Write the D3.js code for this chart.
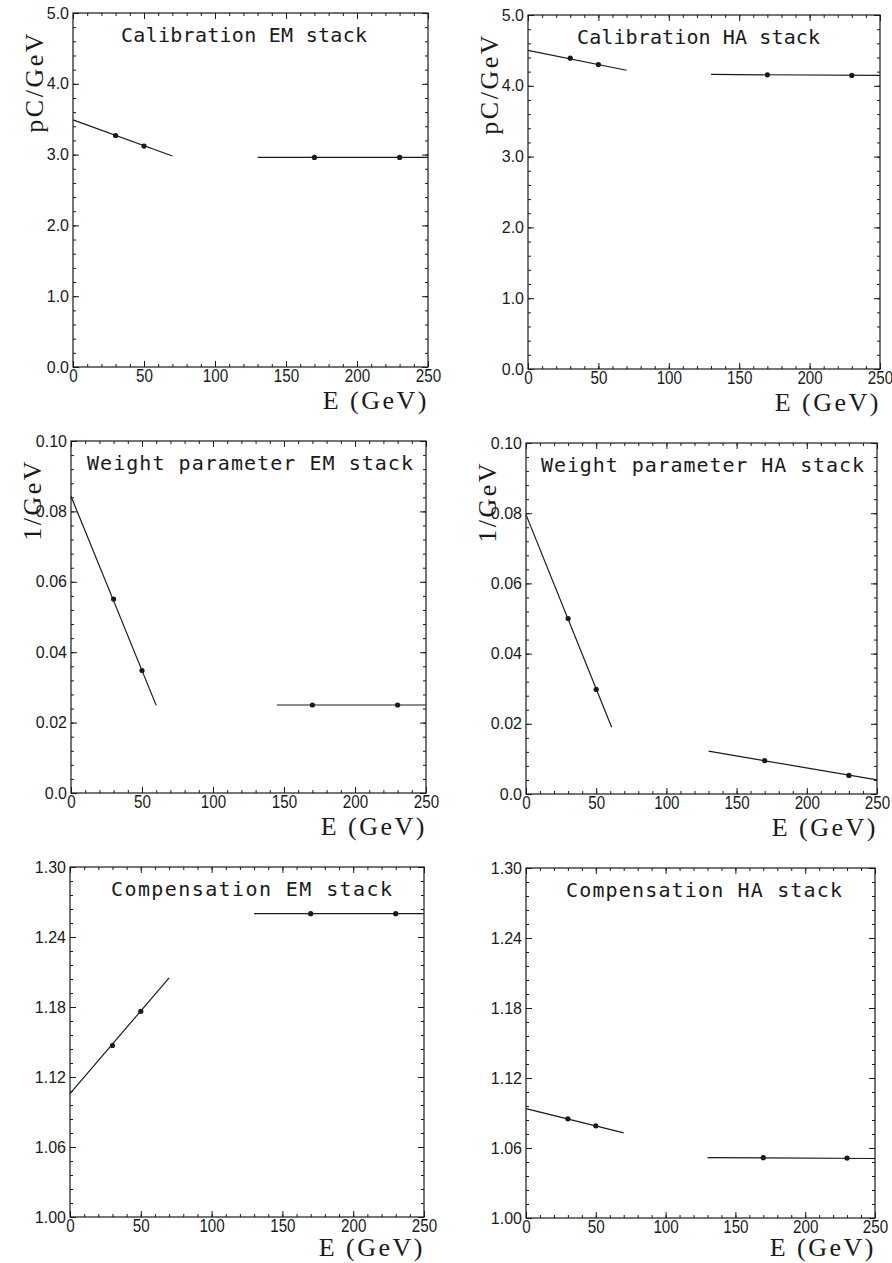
<!DOCTYPE html>
<html>
<head>
<meta charset="utf-8">
<script src="https://cdn.jsdelivr.net/npm/d3@7"></script>
<style>
  body { margin: 0; background: #fff; }
  svg { display: block; }
</style>
</head>
<body>
<div id="chart"></div>
<script>
const W = 892, H = 1263;

// beam energies of the measured points (GeV)
const energies = [30, 50, 170, 230];

// calibration constants (pC/GeV)
const calEM = [3.27, 3.12, 2.96, 2.96];
const calHA = [4.39, 4.30, 4.155, 4.147];
const calEMFitLow = [[0, 3.49], [70, 2.98]];
const calEMFitHigh = [[130, 2.96], [250, 2.96]];
const calHAFitLow = [[0, 4.50], [70, 4.22]];
const calHAFitHigh = [[130, 4.16], [250, 4.146]];

// weight parameter (1/GeV)
const wEM = [0.0551, 0.0348, 0.025, 0.025];
const wHA = [0.050, 0.0298, 0.0095, 0.0053];
const wEMFitLow = [[0, 0.0843], [60, 0.0249]];
const wEMFitHigh = [[145, 0.025], [250, 0.025]];
const wHAFitLow = [[0, 0.0796], [61, 0.019]];
const wHAFitHigh = [[130, 0.0122], [250, 0.004]];

// compensation
const compEM = [1.147, 1.1763, 1.26, 1.26];
const compHA = [1.085, 1.079, 1.0517, 1.0514];
const compEMFitLow = [[0, 1.1057], [70, 1.205]];
const compEMFitHigh = [[130, 1.26], [250, 1.26]];
const compHAFitLow = [[0, 1.0937], [70, 1.073]];
const compHAFitHigh = [[130, 1.0517], [250, 1.051]];

// tick values and labels
const xTicks = [0, 50, 100, 150, 200, 250];
const calTicks = [0, 1, 2, 3, 4, 5];
const calLabels = ["0.0", "1.0", "2.0", "3.0", "4.0", "5.0"];
const wTicks = [0, 0.02, 0.04, 0.06, 0.08, 0.10];
const wLabels = ["0.0", "0.02", "0.04", "0.06", "0.08", "0.10"];
const compTicks = [1.00, 1.06, 1.12, 1.18, 1.24, 1.30];
const compLabels = ["1.00", "1.06", "1.12", "1.18", "1.24", "1.30"];

// panel layout: frame box [left, top, right, bottom], title start x and width
const panels = [
  { box: [73, 13, 428, 367], tx: 121, tw: 246, title: "Calibration EM stack", ylabel: "pC/GeV",
    ticks: calTicks, labels: calLabels, minor: 0.2, values: calEM, fits: [calEMFitLow, calEMFitHigh] },
  { box: [528, 15, 880, 369], tx: 577, tw: 243, title: "Calibration HA stack", ylabel: "pC/GeV",
    ticks: calTicks, labels: calLabels, minor: 0.2, values: calHA, fits: [calHAFitLow, calHAFitHigh] },
  { box: [71, 441, 426, 793], tx: 87, tw: 326, title: "Weight parameter EM stack", ylabel: "1/GeV",
    ticks: wTicks, labels: wLabels, minor: 0.004, values: wEM, fits: [wEMFitLow, wEMFitHigh] },
  { box: [526, 443, 877, 794], tx: 541, tw: 323, title: "Weight parameter HA stack", ylabel: "1/GeV",
    ticks: wTicks, labels: wLabels, minor: 0.004, values: wHA, fits: [wHAFitLow, wHAFitHigh] },
  { box: [70, 867, 424, 1217], tx: 111, tw: 281, title: "Compensation EM stack", ylabel: null,
    ticks: compTicks, labels: compLabels, minor: 0.012, values: compEM, fits: [compEMFitLow, compEMFitHigh] },
  { box: [526, 868, 875, 1218], tx: 566, tw: 276, title: "Compensation HA stack", ylabel: null,
    ticks: compTicks, labels: compLabels, minor: 0.012, values: compHA, fits: [compHAFitLow, compHAFitHigh] },
];

const ink = "#1a1a1a";

const svg = d3.select("#chart")
  .append("svg")
  .attr("width", W)
  .attr("height", H);

function styleAxis(g) {
  g.select(".domain").remove();
  g.selectAll(".tick line").attr("stroke", ink).attr("stroke-width", 1);
  g.attr("font-family", null).attr("font-size", null);
}

function drawPanel(p) {
  const [l, t, r, b] = p.box;
  const g = svg.append("g");

  const x = d3.scaleLinear().domain([0, 250]).range([l, r]);
  const yDom = [p.ticks[0], p.ticks[p.ticks.length - 1]];
  const y = d3.scaleLinear().domain(yDom).range([b, t]);

  const xMinor = d3.range(0, 250.001, 10);
  const nMinor = Math.round((yDom[1] - yDom[0]) / p.minor);
  const yMinor = d3.range(nMinor + 1).map((i) => yDom[0] + i * p.minor);

  // minor ticks on all four sides (inward)
  g.append("g").attr("transform", `translate(0,${b})`)
    .call(d3.axisBottom(x).tickValues(xMinor).tickSize(-3).tickFormat(""))
    .call(styleAxis);
  g.append("g").attr("transform", `translate(0,${t})`)
    .call(d3.axisTop(x).tickValues(xMinor).tickSize(-3).tickFormat(""))
    .call(styleAxis);
  g.append("g").attr("transform", `translate(${l},0)`)
    .call(d3.axisLeft(y).tickValues(yMinor).tickSize(-3).tickFormat(""))
    .call(styleAxis);
  g.append("g").attr("transform", `translate(${r},0)`)
    .call(d3.axisRight(y).tickValues(yMinor).tickSize(-3).tickFormat(""))
    .call(styleAxis);

  // major ticks + labels
  const xAxis = g.append("g").attr("transform", `translate(0,${b})`)
    .call(d3.axisBottom(x).tickValues(xTicks).tickSizeInner(-6).tickSizeOuter(0).tickPadding(2))
    .call(styleAxis);
  xAxis.selectAll("text")
    .attr("fill", ink)
    .style("font-family", "'Liberation Sans', Arial, sans-serif")
    .style("font-size", "19px")
    .attr("transform", "scale(0.8,1)");

  g.append("g").attr("transform", `translate(0,${t})`)
    .call(d3.axisTop(x).tickValues(xTicks).tickSize(-6).tickFormat(""))
    .call(styleAxis);

  const yAxis = g.append("g").attr("transform", `translate(${l},0)`)
    .call(d3.axisLeft(y).tickValues(p.ticks).tickSizeInner(-6).tickSizeOuter(0)
      .tickPadding(4).tickFormat((d, i) => p.labels[i]))
    .call(styleAxis);
  yAxis.selectAll("text")
    .attr("fill", ink)
    .style("font-family", "'Liberation Sans', Arial, sans-serif")
    .style("font-size", "16px");

  g.append("g").attr("transform", `translate(${r},0)`)
    .call(d3.axisRight(y).tickValues(p.ticks).tickSize(-6).tickFormat(""))
    .call(styleAxis);

  // frame
  g.append("rect")
    .attr("x", l).attr("y", t)
    .attr("width", r - l).attr("height", b - t)
    .attr("fill", "none")
    .attr("stroke", ink)
    .attr("stroke-width", 1.2);

  // fit lines
  const line = d3.line().x((d) => x(d[0])).y((d) => y(d[1]));
  p.fits.forEach((seg) => {
    g.append("path")
      .datum(seg)
      .attr("fill", "none")
      .attr("stroke", ink)
      .attr("stroke-width", 1.2)
      .attr("d", line);
  });

  // data points
  g.selectAll("circle.pt")
    .data(p.values)
    .enter()
    .append("circle")
    .attr("class", "pt")
    .attr("cx", (d, i) => x(energies[i]))
    .attr("cy", (d) => y(d))
    .attr("r", 2.6)
    .attr("fill", ink);

  // title
  g.append("text")
    .attr("x", p.tx)
    .attr("y", t + 29)
    .attr("fill", ink)
    .attr("textLength", p.tw)
    .attr("lengthAdjust", "spacing")
    .style("font-family", "'DejaVu Sans Mono', monospace")
    .style("font-size", "20px")
    .text(p.title);

  // x axis label
  g.append("text")
    .attr("x", r + 1)
    .attr("y", Math.min(b + 42, H - 7))
    .attr("text-anchor", "end")
    .attr("fill", ink)
    .style("font-family", "'Liberation Serif', 'Times New Roman', serif")
    .style("font-size", "26px")
    .style("letter-spacing", "2.5px")
    .text("E (GeV)");

  // y axis label
  if (p.ylabel) {
    g.append("text")
      .attr("transform", `translate(${l - 30},${t + 18}) rotate(-90)`)
      .attr("text-anchor", "end")
      .attr("fill", ink)
      .style("font-family", "'Liberation Serif', 'Times New Roman', serif")
      .style("font-size", "26px")
      .style("letter-spacing", "2.5px")
      .text(p.ylabel);
  }
}

panels.forEach(drawPanel);
</script>
</body>
</html>
